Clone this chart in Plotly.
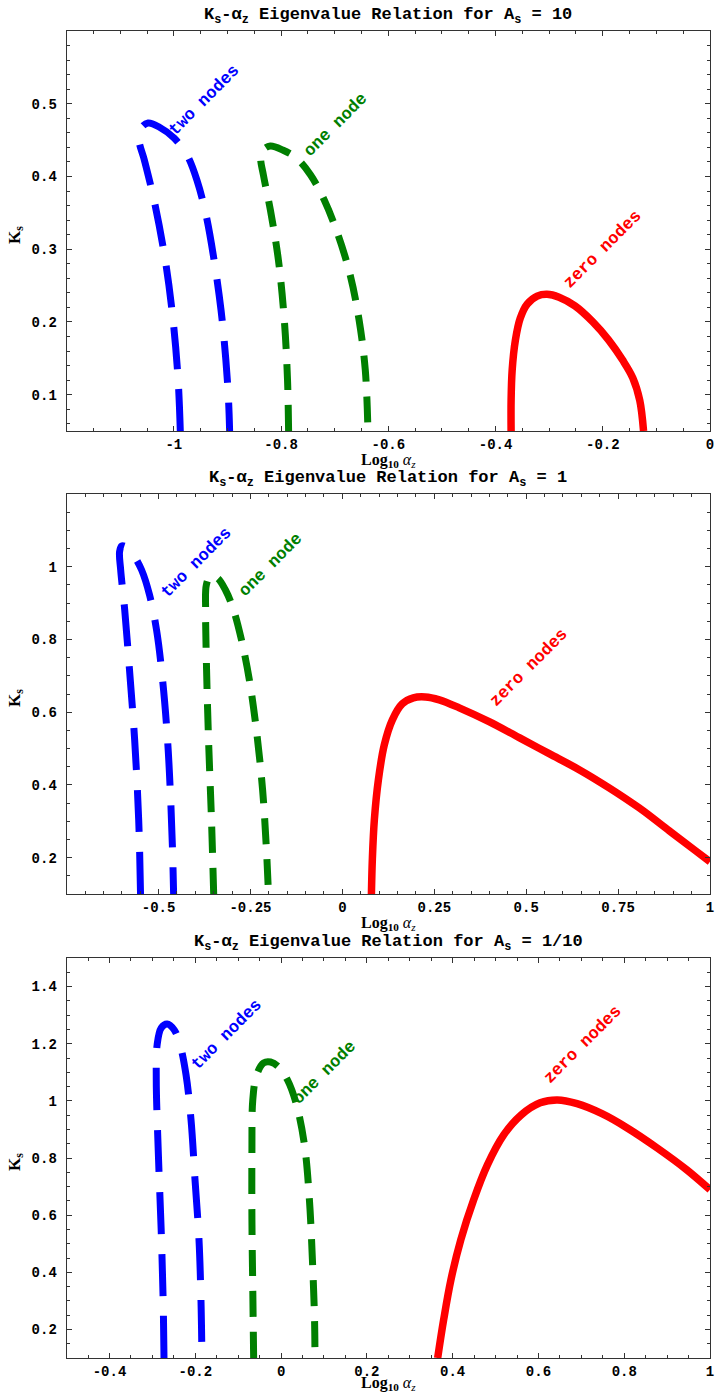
import plotly.graph_objects as go

# ---------------- A_s = 10 ----------------
a10_two_x = [-0.988, -0.992, -1.0015, -1.016, -1.037, -1.055, -1.065, -1.061, -1.048,
             -1.0275, -0.9996, -0.9755, -0.957, -0.940, -0.925, -0.912, -0.903, -0.898, -0.896]
a10_two_k = [0.05, 0.12, 0.2025, 0.285, 0.3675, 0.4226, 0.45, 0.4666, 0.4735,
             0.468, 0.4528, 0.4294, 0.395, 0.347, 0.285, 0.216, 0.1475, 0.092, 0.05]
a10_one_x = [-0.786, -0.788, -0.794, -0.805, -0.820, -0.833, -0.838, -0.834, -0.820,
             -0.796, -0.771, -0.745, -0.7195, -0.6935, -0.671, -0.6545, -0.643, -0.638]
a10_one_k = [0.05, 0.12, 0.2025, 0.285, 0.354, 0.402, 0.425, 0.436, 0.442,
             0.436, 0.425, 0.402, 0.3675, 0.319, 0.264, 0.2025, 0.134, 0.05]
a10_zero_x = [-0.371, -0.371, -0.369, -0.363, -0.354, -0.341, -0.3224, -0.304, -0.2816,
              -0.252, -0.2186, -0.189, -0.163, -0.144, -0.131, -0.124]
a10_zero_k = [0.05, 0.092, 0.134, 0.175, 0.205, 0.2245, 0.2355, 0.238, 0.234,
              0.222, 0.2, 0.175, 0.1475, 0.123, 0.092, 0.05]

# ---------------- A_s = 1 ----------------
a1_two_x = [-0.549, -0.554, -0.565, -0.579, -0.592, -0.603, -0.606, -0.6005, -0.587,
            -0.568, -0.546, -0.5245, -0.5054, -0.489, -0.4755, -0.467, -0.462, -0.459]
a1_two_k = [0.1, 0.304, 0.524, 0.7165, 0.881, 0.991, 1.041, 1.057, 1.054,
            1.032, 0.991, 0.9225, 0.826, 0.689, 0.524, 0.359, 0.222, 0.1]
a1_one_x = [-0.350, -0.356, -0.364, -0.370, -0.372, -0.370, -0.359, -0.340, -0.318,
            -0.296, -0.2745, -0.253, -0.234, -0.217, -0.2065, -0.201]
a1_one_k = [0.1, 0.304, 0.524, 0.744, 0.881, 0.95, 0.975, 0.969, 0.936,
            0.881, 0.799, 0.689, 0.552, 0.387, 0.222, 0.1]
a1_zero_x = [0.079, 0.0815, 0.087, 0.098, 0.114, 0.136, 0.163, 0.193, 0.2255, 0.2636,
             0.318, 0.399, 0.481, 0.5625, 0.644, 0.7255, 0.807, 0.889, 0.9565, 1.0]
a1_zero_k = [0.1, 0.1945, 0.304, 0.414, 0.51, 0.579, 0.623, 0.6396, 0.642, 0.634,
             0.612, 0.574, 0.53, 0.486, 0.442, 0.392, 0.337, 0.274, 0.222, 0.189]

# ---------------- A_s = 1/10 ----------------
a01_two_x = [-0.273, -0.275, -0.2796, -0.2865, -0.291, -0.289, -0.2796, -0.2657,
             -0.249, -0.2355, -0.2216, -0.21, -0.2007, -0.1914, -0.1868, -0.1845]
a01_two_k = [0.1, 0.304, 0.549, 0.829, 1.073, 1.196, 1.255, 1.269,
             1.248, 1.196, 1.091, 0.934, 0.724, 0.514, 0.304, 0.1]
a01_one_x = [-0.064, -0.066, -0.068, -0.068, -0.066, -0.057, -0.0406, -0.0244,
             -0.0058, 0.015, 0.036, 0.0545, 0.066, 0.073, 0.078, 0.079]
a01_one_k = [0.1, 0.339, 0.584, 0.829, 1.0035, 1.091, 1.133, 1.136,
             1.119, 1.073, 0.986, 0.846, 0.654, 0.444, 0.234, 0.1]
a01_zero_x = [0.365, 0.379, 0.396, 0.419, 0.449, 0.481, 0.519, 0.560, 0.604, 0.644,
              0.69, 0.748, 0.806, 0.876, 0.9455, 1.0]
a01_zero_k = [0.1, 0.234, 0.374, 0.514, 0.654, 0.776, 0.881, 0.951, 0.993, 1.003,
              0.99, 0.955, 0.906, 0.836, 0.759, 0.689]

panel_titles = ["10", "1", "1/10"]
x_ranges = [[-1.2, 0.0], [-0.75, 1.0], [-0.5, 1.0]]
y_ranges = [[0.05, 0.6], [0.1, 1.2], [0.1, 1.5]]
x_ticks = [[-1, -0.8, -0.6, -0.4, -0.2, 0],
           [-0.5, -0.25, 0, 0.25, 0.5, 0.75, 1],
           [-0.4, -0.2, 0, 0.2, 0.4, 0.6, 0.8, 1]]
x_ticktext = [["-1", "-0.8", "-0.6", "-0.4", "-0.2", "0"],
              ["-0.5", "-0.25", "0", "0.25", "0.5", "0.75", "1"],
              ["-0.4", "-0.2", "0", "0.2", "0.4", "0.6", "0.8", "1"]]
y_ticks = [[0.1, 0.2, 0.3, 0.4, 0.5],
           [0.2, 0.4, 0.6, 0.8, 1.0],
           [0.2, 0.4, 0.6, 0.8, 1.0, 1.2, 1.4]]
y_ticktext = [["0.1", "0.2", "0.3", "0.4", "0.5"],
              ["0.2", "0.4", "0.6", "0.8", "1"],
              ["0.2", "0.4", "0.6", "0.8", "1", "1.2", "1.4"]]
x_minor = [0.05, 0.05, 0.05]
y_minor = [0.02, 0.05, 0.05]

# label positions (x, K) for the node annotations
label_pos = [
    [(-0.944, 0.505), (-0.697, 0.471), (-0.200, 0.299)],
    [(-0.397, 1.013), (-0.193, 1.005), (0.508, 0.722)],
    [(-0.126, 1.231), (0.101, 1.101), (0.704, 1.196)],
]
label_text = ["two nodes", "one node", "zero nodes"]

curves = [
    [(a10_two_x, a10_two_k), (a10_one_x, a10_one_k), (a10_zero_x, a10_zero_k)],
    [(a1_two_x, a1_two_k), (a1_one_x, a1_one_k), (a1_zero_x, a1_zero_k)],
    [(a01_two_x, a01_two_k), (a01_one_x, a01_one_k), (a01_zero_x, a01_zero_k)],
]

W, H = 719, 1395
LEFT, RIGHT = 67, 714
panel_px = [(31, 431), (494, 894), (958, 1358)]
xtitle_gap = [29, 29, 25]

colors = ["#0000FF", "#007F00", "#FF0000"]
dashes = ["42px,20px", "26px,15px", "solid"]
widths = [7, 7, 7.5]

MONO = "Liberation Mono"
SERIF = "Liberation Serif"

fig = go.Figure()


def py(v):
    return 1 - v / H


for i in range(3):
    sfx = "" if i == 0 else str(i + 1)
    xa, ya = "x" + sfx, "y" + sfx
    for j, (xs, ks) in enumerate(curves[i]):
        fig.add_trace(go.Scatter(
            x=xs, y=ks, xaxis=xa, yaxis=ya, mode="lines",
            line=dict(color=colors[j], width=widths[j], dash=dashes[j],
                      shape="spline", smoothing=1.0),
            showlegend=False, hoverinfo="skip"))
        lx, lk = label_pos[i][j]
        fig.add_annotation(x=lx, y=lk, xref=xa, yref=ya, text="<b>%s</b>" % label_text[j],
                           showarrow=False, textangle=-45,
                           font=dict(family=MONO, size=17, color=colors[j]))

    top, bot = panel_px[i]
    axis_common = dict(showline=True, linecolor="#333333", linewidth=1, mirror="ticks",
                       ticks="inside", ticklen=5, tickwidth=1, tickcolor="#333333",
                       showgrid=False, zeroline=False,
                       tickfont=dict(family=MONO, size=14, color="black", weight="bold"))
    fig.update_layout(**{
        "xaxis" + sfx: dict(domain=[LEFT / W, RIGHT / W], anchor=ya, range=x_ranges[i],
                            tickmode="array", tickvals=x_ticks[i], ticktext=x_ticktext[i],
                            minor=dict(ticks="inside", ticklen=3, dtick=x_minor[i], tick0=0,
                                       tickcolor="#333333"),
                            ticklabelstandoff=0, **axis_common),
        "yaxis" + sfx: dict(domain=[py(bot), py(top)], anchor=xa, range=y_ranges[i],
                            tickmode="array", tickvals=y_ticks[i], ticktext=y_ticktext[i],
                            minor=dict(ticks="inside", ticklen=3, dtick=y_minor[i], tick0=0,
                                       tickcolor="#333333"),
                            ticklabelstandoff=6, **axis_common),
    })

    # panel title
    fig.add_annotation(
        x=(LEFT + RIGHT) / 2 / W, y=py(top - 15), xref="paper", yref="paper",
        xanchor="center", yanchor="middle",
        text="<b>K<sub>s</sub>-α<sub>z</sub> Eigenvalue Relation for A<sub>s</sub> = %s</b>"
             % panel_titles[i],
        showarrow=False, font=dict(family=MONO, size=17, color="black"))
    # x-axis title
    fig.add_annotation(
        x=(LEFT + RIGHT) / 2 / W, y=py(bot + xtitle_gap[i]), xref="paper", yref="paper",
        xanchor="center", yanchor="middle",
        text="<b>Log<sub>10</sub></b> <i>α<sub>z</sub></i>",
        showarrow=False, font=dict(family=SERIF, size=16, color="black"))
    # y-axis title
    fig.add_annotation(
        x=16 / W, y=py((top + bot) / 2 + 4), xref="paper", yref="paper",
        xanchor="center", yanchor="middle",
        text="<b>K<sub>s</sub></b>", textangle=-90,
        showarrow=False, font=dict(family=SERIF, size=17, color="black"))

fig.update_layout(width=W, height=H, margin=dict(l=0, r=0, t=0, b=0),
                  paper_bgcolor="white", plot_bgcolor="white")

fig.write_html("out.html")
